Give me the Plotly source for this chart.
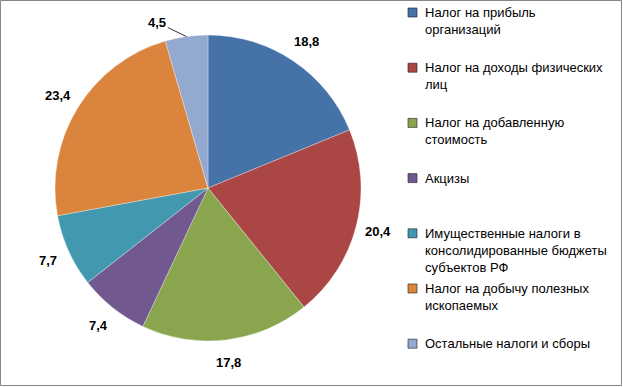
import math
import plotly.graph_objects as go

categories = [
    "Налог на прибыль<br>организаций",
    "Налог на доходы физических<br>лиц",
    "Налог на добавленную<br>стоимость",
    "Акцизы",
    "Имущественные налоги в<br>консолидированные бюджеты<br>субъектов РФ",
    "Налог на добычу полезных<br>ископаемых",
    "Остальные налоги и сборы",
]
values = [18.8, 20.4, 17.8, 7.4, 7.7, 23.4, 4.5]
value_labels = ["18,8", "20,4", "17,8", "7,4", "7,7", "23,4", "4,5"]
colors = ["#4572A7", "#AA4643", "#89A54E", "#71588F", "#4198AF", "#DB843D", "#93A9CF"]

W, H = 623, 387
CX, CY, R = 208, 188, 153
LABEL_R = 176
FONT = "Liberation Sans"


def px(x):
    return x / W


def py(y):
    return 1 - y / H


fig = go.Figure()
fig.add_trace(go.Pie(
    labels=[c.replace("<br>", " ") for c in categories],
    values=values,
    sort=False,
    direction="clockwise",
    rotation=0,
    textinfo="none",
    hoverinfo="label+value",
    marker=dict(colors=colors, line=dict(color="rgba(255,255,255,0.45)", width=0.7)),
    domain=dict(x=[px(CX - R), px(CX + R)], y=[py(CY + R), py(CY - R)]),
    showlegend=False,
))

annotations = []
total = sum(values)
cum = 0.0
for i, (v, lab) in enumerate(zip(values, value_labels)):
    mid = (cum + v / 2) / total * 2 * math.pi
    cum += v
    if i == len(values) - 1:
        ex = CX + R * math.sin(mid)
        ey = CY - R * math.cos(mid)
        annotations.append(dict(
            x=px(ex), y=py(ey), xref="paper", yref="paper",
            text=lab, showarrow=True, arrowhead=0, arrowwidth=0.8, arrowcolor="#000000",
            ax=-29, ay=-14, standoff=0,
            font=dict(family=FONT, size=13, color="#000000", weight="bold"),
        ))
    else:
        lx = CX + LABEL_R * math.sin(mid)
        ly = CY - LABEL_R * math.cos(mid)
        annotations.append(dict(
            x=px(lx), y=py(ly), xref="paper", yref="paper",
            text=lab, showarrow=False, xanchor="center", yanchor="middle",
            font=dict(family=FONT, size=13, color="#000000", weight="bold"),
        ))

# manual legend
shapes = []
LEG_X, SQ, TXT_X, TOP0, STEP = 408, 9, 423, 7, 55.2
for i, (c, col) in enumerate(zip(categories, colors)):
    top = TOP0 + i * STEP
    shapes.append(dict(
        type="rect", xref="paper", yref="paper",
        x0=px(LEG_X), x1=px(LEG_X + SQ), y0=py(top + 1 + SQ), y1=py(top + 1),
        fillcolor=col, line=dict(color="rgba(40,40,40,0.8)", width=0.8),
    ))
    annotations.append(dict(
        x=px(TXT_X), y=py(top - 4), xref="paper", yref="paper",
        text=c, showarrow=False, xanchor="left", yanchor="top", align="left",
        font=dict(family=FONT, size=13, color="#000000"),
    ))

shapes.append(dict(
    type="rect", xref="paper", yref="paper",
    x0=px(0.5), x1=px(W - 1.5), y0=py(H - 1.5), y1=py(0.5),
    line=dict(color="#868686", width=1), fillcolor="rgba(0,0,0,0)",
))

fig.update_layout(
    width=W, height=H,
    margin=dict(l=0, r=0, t=0, b=0),
    paper_bgcolor="#FFFFFF",
    plot_bgcolor="#FFFFFF",
    annotations=annotations,
    shapes=shapes,
    showlegend=False,
)

fig.write_html(
    "out.html",
    config={"displayModeBar": False},
    post_script="document.body.style.margin='0px';document.body.style.overflow='hidden';",
)
